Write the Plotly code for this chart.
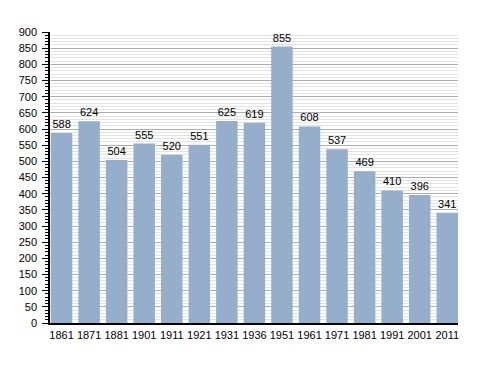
import plotly.graph_objects as go

years = ["1861", "1871", "1881", "1901", "1911", "1921", "1931", "1936",
         "1951", "1961", "1971", "1981", "1991", "2001", "2011"]
population = [588, 624, 504, 555, 520, 551, 625, 619, 855, 608, 537, 469, 410, 396, 341]
y_ticks = list(range(0, 901, 50))

fig = go.Figure(go.Bar(
    x=years, y=population,
    marker=dict(color="#94AECB", line=dict(width=0)),
    text=[str(v) for v in population],
    textposition="outside",
    textfont=dict(family="Liberation Sans, Arial", size=11, color="#000"),
    cliponaxis=False,
))

# page body has an 8px margin, so the figure is 8px smaller on each axis
fig.update_layout(
    width=480, height=365,
    margin=dict(l=42, r=30, t=24, b=50, autoexpand=False),
    paper_bgcolor="white", plot_bgcolor="white",
    bargap=0.22,
    showlegend=False,
    font=dict(family="Liberation Sans, Arial", size=11, color="#000"),
)
fig.update_xaxes(
    type="category", range=[-0.42, 14.39], automargin=False,
    showline=True, linecolor="#000", linewidth=1.5,
    ticks="outside", ticklen=1, tickcolor="rgba(0,0,0,0)",
    showgrid=False,
    tickfont=dict(size=11),
)
fig.update_yaxes(
    range=[0, 900], tickvals=y_ticks, automargin=False,
    showline=True, linecolor="#000", linewidth=1.5,
    ticks="outside", ticklen=6, tickcolor="#000",
    ticklabelstandoff=3,
    showgrid=True, gridcolor="#ADADAD", gridwidth=1,
    minor=dict(dtick=10, showgrid=True, gridcolor="#E3E3E3", gridwidth=1,
               ticks="outside", ticklen=3, tickcolor="#000"),
    zeroline=False,
    tickfont=dict(size=11),
)

fig.write_html("out.html")
